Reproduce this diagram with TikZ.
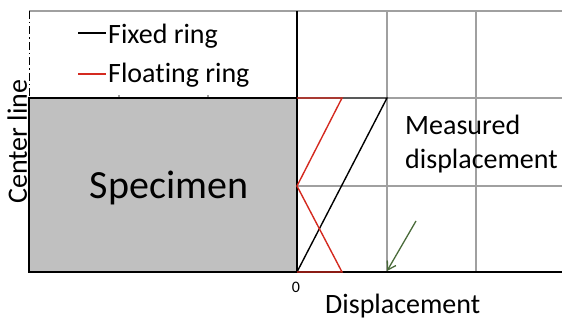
\documentclass[tikz,border=0pt]{standalone}
\usepackage{fontspec}
\setmainfont{Carlito}[Ligatures=NoCommon]
\usepackage{tikz}
\usetikzlibrary{positioning, arrows.meta, calc}
\definecolor{specgray}{HTML}{C0C0C0}
\definecolor{gridgray}{HTML}{A0A0A0}
\definecolor{ringred}{HTML}{D42A20}
\definecolor{arrowgreen}{HTML}{4A6B3A}
\tikzset{
  gridline/.style={
    draw=gridgray,
    line width=1.3pt
  },
  axisline/.style={
    draw=black,
    line width=2pt
  },
  specimenbox/.style={
    fill=specgray,
    draw=black,
    line width=2pt
  },
  fixedline/.style={
    draw=black,
    line width=1.4pt
  },
  floatline/.style={
    draw=ringred,
    line width=1.4pt
  },
  centerdash/.style={
    draw=black,
    line width=1pt,
    dash pattern=on 8pt off 3pt on 1.5pt off 3pt
  },
  measurearrow/.style={
    -{Straight Barb[length=8pt, width=10pt]},
    draw=arrowgreen,
    line width=1.3pt
  },
  biglabel/.style={
    font=\fontsize{28}{34}\selectfont,
    inner sep=0pt
  },
  speclabel/.style={
    font=\fontsize{40}{48}\selectfont,
    inner sep=0pt
  },
  ticklabel/.style={
    font=\fontsize{16}{18}\selectfont,
    inner sep=0pt
  }
}

\begin{document}
\begin{tikzpicture}[x=1pt, y=-1pt]
  \useasboundingbox (0,0) rectangle (562,320);

  \coordinate (origin) at (297,272);
  \coordinate (axistop) at (297,11);
  \coordinate (fixedtop) at (387,98);
  \coordinate (floattop) at (342,98);
  \coordinate (floatmid) at (297,186);
  \coordinate (floatbot) at (342,272);
  \coordinate (measpt) at (387,271);
  \coordinate (arrowtail) at (416,221);

  \draw[gridline] (29,11) -- (562,11);
  \draw[gridline] (387,11) -- (387,272);
  \draw[gridline] (476,11) -- (476,272);
  \draw[gridline] (floatmid) -- (562,186);
  \draw[gridline] (fixedtop) -- (562,98);
  \draw[gridline] (119,95) -- (119,98);
  \draw[gridline] (208,95) -- (208,98);

  \draw[centerdash] (29,11) -- (29,98);
  \draw[specimenbox] (29,98) rectangle (origin);
  \draw[axisline] (29,272) -- (562,272);
  \draw[axisline] (axistop) -- (origin);

  \draw[fixedline] (297,98) -- (fixedtop) -- (origin);
  \draw[floatline] (297,98) -- (floattop) -- (floatmid) -- (floatbot) -- (origin);

  \draw[fixedline] (78,33) -- (106,33);
  \draw[floatline] (78,74) -- (106,74);
  \node[biglabel, anchor=base west] (fixedtxt) at (108,44) {Fixed ring};
  \node[biglabel, anchor=base west] (floattxt) at (108,83) {Floating ring};

  \node[speclabel, anchor=base] (spectxt) at (169,199) {Specimen};
  \node[biglabel, rotate=90, anchor=base west] (centertxt) at (27,204) {Center line};

  \node[biglabel, align=left, anchor=base west] (meastxt) at (405,169) {Measured\\displacement};
  \draw[measurearrow] (arrowtail) -- (measpt);

  \node[ticklabel, anchor=base] (zerotxt) at (296,292) {0};
  \node[biglabel, anchor=base west] (disptxt) at (325,313) {Displacement};
\end{tikzpicture}
\end{document}
